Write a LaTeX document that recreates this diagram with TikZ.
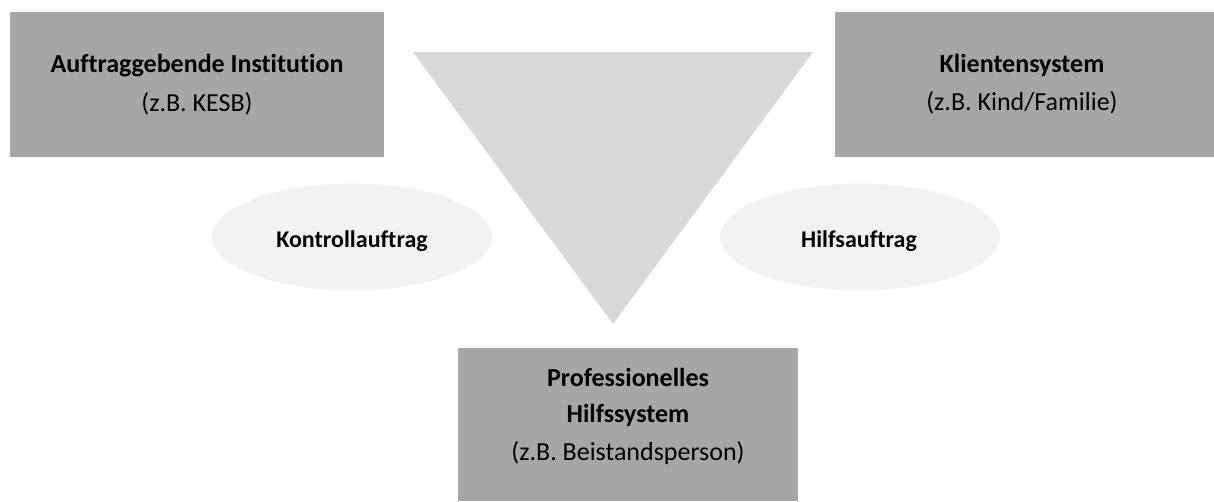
\documentclass[tikz,border=0pt]{standalone}
\usepackage{fontspec}
\setmainfont[Ligatures={NoCommon,NoRare,NoContextual}]{Carlito}
\usetikzlibrary{shapes.geometric}
\definecolor{boxgray}{HTML}{A6A6A6}
\definecolor{trigray}{HTML}{D9D9D9}
\definecolor{ellgray}{HTML}{F2F2F2}
\tikzset{
  graybox/.style={fill=boxgray, draw=none, inner sep=0pt},
  ellbox/.style={ellipse, fill=ellgray, draw=none, inner sep=0pt},
  titletext/.style={anchor=base, inner sep=0pt, font=\fontsize{26}{30}\selectfont\bfseries},
  subtext/.style={anchor=base, inner sep=0pt, font=\fontsize{26}{30}\selectfont},
  elltext/.style={anchor=base, inner sep=0pt, font=\fontsize{24}{28}\selectfont\bfseries},
}
\begin{document}
\begin{tikzpicture}[x=1pt,y=-1pt]
\useasboundingbox (0,0) rectangle (1214,501);
% boxes
\path[graybox] (10,12) rectangle (384,157);
\path[graybox] (835,12) rectangle (1214,157);
\path[graybox] (458,348) rectangle (798,501);
% triangle
\fill[trigray] (413,52) -- (813,52) -- (613,324) -- cycle;
% ellipses
\node[ellbox, minimum width=280pt, minimum height=107pt] (kontroll) at (352,237) {};
\node[ellbox, minimum width=280pt, minimum height=107pt] (hilfs) at (860,237) {};
% texts
\node[titletext] (auftragT) at (197,72) {Auftraggebende Institution};
\node[subtext] (auftragS) at (197,111) {(z.B. KESB)};
\node[titletext] (klientT) at (1022,72) {Klientensystem};
\node[subtext] (klientS) at (1022,110) {(z.B. Kind/Familie)};
\node[titletext] (profT) at (628,386) {Professionelles};
\node[titletext] (profT2) at (628,422) {Hilfssystem};
\node[subtext] (profS) at (628,460) {(z.B. Beistandsperson)};
\node[elltext] (kontrollT) at (352,247) {Kontrollauftrag};
\node[elltext] (hilfsT) at (859,247) {Hilfsauftrag};
\end{tikzpicture}
\end{document}
